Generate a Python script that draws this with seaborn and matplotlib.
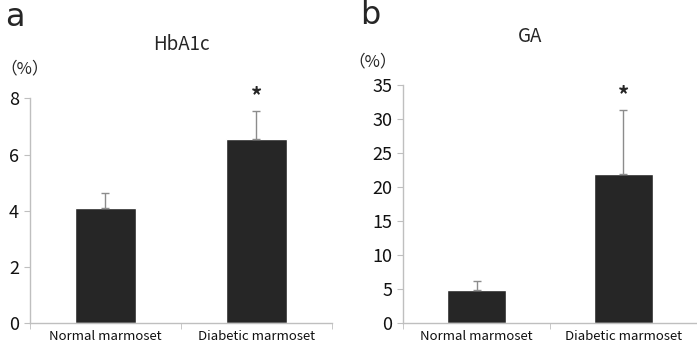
import pandas as pd
import seaborn as sns
import matplotlib.pyplot as plt

# Valeurs
groups = ["Normal marmoset", "Diabetic marmoset"]
hba1c_mean = [4.11, 6.54]
hba1c_err = [0.52, 1.03]
ga_mean = [4.9, 21.95]
ga_err = [1.3, 9.35]

sns.set_style("white")
plt.rcParams["font.family"] = ["Noto Sans CJK JP", "DejaVu Sans"]

bar_col = "#262626"
err_col = "#8c8c8c"
axis_col = "#bfbfbf"

fig = plt.figure(figsize=(6.97, 3.45), dpi=100)
ax_a = fig.add_axes([0.043, 0.0646, 0.433, 0.650])
ax_b = fig.add_axes([0.5787, 0.0629, 0.421, 0.6907])


def draw_panel(ax, means, errs, ymax, step):
    df = pd.DataFrame({"group": groups, "value": means})
    sns.barplot(data=df, x="group", y="value", color=bar_col, width=0.4,
                saturation=1, errorbar=None, ax=ax)
    ax.errorbar(range(len(means)), means, yerr=[[0] * len(errs), errs],
                fmt="none", ecolor=err_col, elinewidth=1, capsize=3, capthick=1)
    # astérisque au-dessus du groupe diabétique
    ax.text(1, means[1] + errs[1] + ymax * 0.012, "*", ha="center", va="bottom",
            fontsize=16, fontweight="bold", color="#262626")
    ax.set_xlim(-0.5, 1.5)
    ax.set_ylim(0, ymax)
    ax.set_yticks(range(0, ymax + 1, step))
    ax.set_xlabel("")
    ax.set_ylabel("")
    for s in ["top", "right"]:
        ax.spines[s].set_visible(False)
    for s in ["left", "bottom"]:
        ax.spines[s].set_color(axis_col)
        ax.spines[s].set_linewidth(1)
    ax.tick_params(axis="y", left=True, length=4, color=axis_col,
                   labelsize=13, pad=4, labelcolor="#111111")
    ax.tick_params(axis="x", which="major", length=0, labelsize=9.5,
                   pad=5, labelcolor="#111111")
    ax.set_xticks([-0.5, 0.5, 1.5], minor=True)
    ax.tick_params(axis="x", which="minor", bottom=True, length=4, color=axis_col)
    ax.patch.set_alpha(0)


draw_panel(ax_a, hba1c_mean, hba1c_err, 8, 2)
draw_panel(ax_b, ga_mean, ga_err, 35, 5)

# titres, lettres et unités
fig.text(15 / 697, 1 - 18 / 345, "a", fontsize=23, ha="center", va="center",
         family="DejaVu Sans")
fig.text(370 / 697, 1 - 15 / 345, "b", fontsize=23, ha="center", va="center",
         family="DejaVu Sans")
fig.text(181 / 697, 1 - 45 / 345, "HbA1c", fontsize=13.5, ha="center", va="center")
fig.text(530 / 697, 1 - 37 / 345, "GA", fontsize=13.5, ha="center", va="center")
fig.text(0, 1 - 69 / 345, "（%）", fontsize=12, ha="left", va="center")
fig.text(348 / 697, 1 - 62 / 345, "（%）", fontsize=12, ha="left", va="center")

fig.savefig("out.png", dpi=100)
